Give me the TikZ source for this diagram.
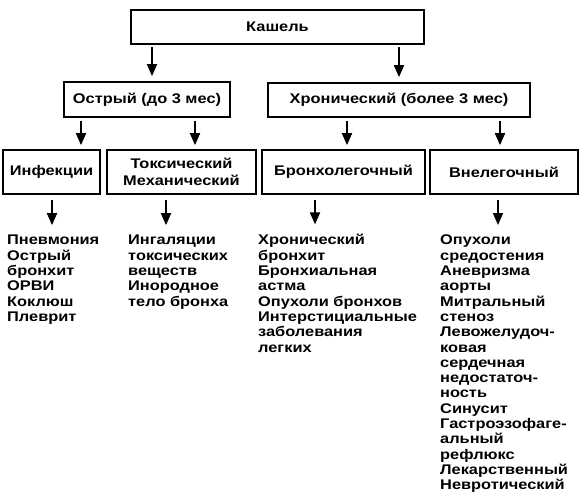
\documentclass[tikz,border=0pt]{standalone}
\usepackage{fontspec}
\setmainfont{Liberation Sans}[FakeStretch=1.17]
\usetikzlibrary{arrows.meta}
\newcommand\itemlines[1]{\vtop{\baselineskip=15.3pt\lineskiplimit=-20pt #1}}
\tikzset{
  box/.style={draw, line width=1.7pt, inner sep=0pt, align=center, font=\fontsize{14pt}{17pt}\selectfont\bfseries},
  arr/.style={line width=1.8pt, -{Triangle[width=10pt,length=12pt]}},
  lst/.style={anchor=base west, inner sep=0pt, font=\fontsize{14pt}{15.3pt}\selectfont\bfseries}
}
\begin{document}
\begin{tikzpicture}[x=1pt,y=-1pt]
\useasboundingbox[fill=white] (0,0) rectangle (579,500);
\node[box, minimum width=293pt, minimum height=34pt] (kashel) at (277.5,27) {Кашель};
\node[box, minimum width=166pt, minimum height=35pt] (ostr) at (147,99.5) {Острый (до 3 мес)};
\node[box, minimum width=262pt, minimum height=34pt] (chron) at (399,100) {Хронический (более 3 мес)};
\node[box, minimum width=97pt, minimum height=44pt] (inf) at (51.5,172) {Инфекции};
\node[box, minimum width=149pt, minimum height=44pt] (tox) at (181.5,172) {Токсический\\Механический};
\node[box, minimum width=163pt, minimum height=44pt] (bronch) at (343.5,172) {Бронхолегочный};
\node[box, minimum width=148pt, minimum height=44pt] (vne) at (504,172) {Внелегочный};

\node[lst] (l1) at (7,245) {\itemlines{\hbox{Пневмония}\hbox{Острый}\hbox{бронхит}\hbox{ОРВИ}\hbox{Коклюш}\hbox{Плеврит}}};
\node[lst] (l2) at (128,245) {\itemlines{\hbox{Ингаляции}\hbox{токсических}\hbox{веществ}\hbox{Инородное}\hbox{тело бронха}}};
\node[lst] (l3) at (258,245) {\itemlines{\hbox{Хронический}\hbox{бронхит}\hbox{Бронхиальная}\hbox{астма}\hbox{Опухоли бронхов}\hbox{Интерстициальные}\hbox{заболевания}\hbox{легких}}};
\node[lst] (l4) at (440,245) {\itemlines{\hbox{Опухоли}\hbox{средостения}\hbox{Аневризма}\hbox{аорты}\hbox{Митральный}\hbox{стеноз}\hbox{Левожелудоч-}\hbox{ковая}\hbox{сердечная}\hbox{недостаточ-}\hbox{ность}\hbox{Синусит}\hbox{Гастроэзофаге-}\hbox{альный}\hbox{рефлюкс}\hbox{Лекарственный}\hbox{Невротический}}};

\coordinate (a1) at (152,0);
\coordinate (a2) at (399,0);
\coordinate (b1) at (81,0);
\coordinate (b2) at (195,0);
\coordinate (b3) at (347,0);
\coordinate (b4) at (500,0);
\coordinate (c1) at (52,0);
\coordinate (c2) at (166,0);
\coordinate (c3) at (315,0);
\coordinate (c4) at (498,0);

\draw[arr, shorten <=2pt, shorten >=5pt] (kashel.south -| a1) -- (ostr.north -| a1);
\draw[arr, shorten <=2pt, shorten >=5pt] (kashel.south -| a2) -- (chron.north -| a2);
\draw[arr, shorten <=3pt, shorten >=4pt] (ostr.south -| b1) -- (inf.north -| b1);
\draw[arr, shorten <=3pt, shorten >=4pt] (ostr.south -| b2) -- (tox.north -| b2);
\draw[arr, shorten <=3pt, shorten >=4pt] (chron.south -| b3) -- (bronch.north -| b3);
\draw[arr, shorten <=3pt, shorten >=4pt] (chron.south -| b4) -- (vne.north -| b4);
\draw[arr, shorten <=5pt, shorten >=10pt] (inf.south -| c1) -- (l1.north -| c1);
\draw[arr, shorten <=5pt, shorten >=10pt] (tox.south -| c2) -- (l2.north -| c2);
\draw[arr, shorten <=5pt, shorten >=10pt] (bronch.south -| c3) -- (l3.north -| c3);
\draw[arr, shorten <=5pt, shorten >=10pt] (vne.south -| c4) -- (l4.north -| c4);
\end{tikzpicture}
\end{document}
